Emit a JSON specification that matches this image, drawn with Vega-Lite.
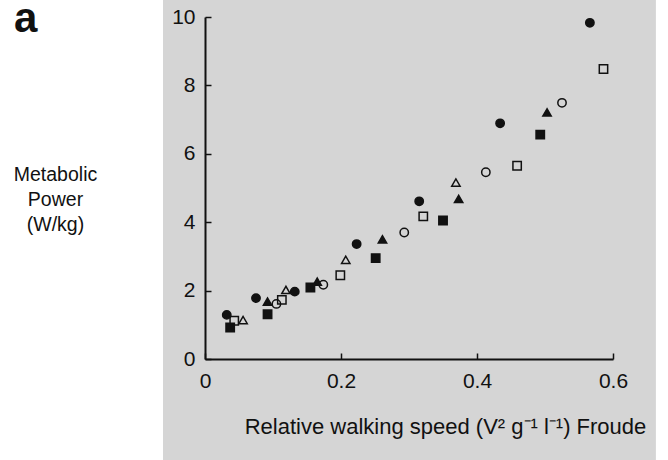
{
  "$schema": "https://vega.github.io/schema/vega-lite/v6.json",
  "autosize": "none",
  "width": 408,
  "height": 342,
  "padding": {"left": 205, "top": 17, "right": 55, "bottom": 101},
  "background": "white",
  "config": {
    "font": "Liberation Sans",
    "view": {"stroke": null},
    "axis": {"grid": false, "labelFlush": false, "domainColor": "#111", "domainWidth": 2, "tickColor": "#111", "tickWidth": 1.5, "labelColor": "#111", "titleColor": "#111", "labelFont": "Liberation Sans", "titleFont": "Liberation Sans"}
  },
  "title": {"text": "a", "fontSize": 42, "fontWeight": "bold", "color": "#111", "anchor": "start", "frame": "group", "dx": -191, "dy": 74, "offset": 0, "baseline": "alphabetic"},
  "data": {"values": [
    {"series": "fc", "froude": 0.032, "power": 1.29},
    {"series": "fc", "froude": 0.075, "power": 1.78},
    {"series": "fc", "froude": 0.132, "power": 1.97},
    {"series": "fc", "froude": 0.223, "power": 3.36},
    {"series": "fc", "froude": 0.315, "power": 4.61},
    {"series": "fc", "froude": 0.434, "power": 6.89},
    {"series": "fc", "froude": 0.566, "power": 9.83},
    {"series": "fs", "froude": 0.037, "power": 0.92},
    {"series": "fs", "froude": 0.092, "power": 1.31},
    {"series": "fs", "froude": 0.155, "power": 2.09},
    {"series": "fs", "froude": 0.251, "power": 2.95},
    {"series": "fs", "froude": 0.350, "power": 4.05},
    {"series": "fs", "froude": 0.493, "power": 6.56},
    {"series": "ft", "froude": 0.092, "power": 1.68},
    {"series": "ft", "froude": 0.165, "power": 2.26},
    {"series": "ft", "froude": 0.261, "power": 3.50},
    {"series": "ft", "froude": 0.373, "power": 4.68},
    {"series": "ft", "froude": 0.503, "power": 7.21},
    {"series": "oc", "froude": 0.105, "power": 1.61},
    {"series": "oc", "froude": 0.174, "power": 2.17},
    {"series": "oc", "froude": 0.293, "power": 3.70},
    {"series": "oc", "froude": 0.413, "power": 5.46},
    {"series": "oc", "froude": 0.525, "power": 7.49},
    {"series": "os", "froude": 0.043, "power": 1.12},
    {"series": "os", "froude": 0.113, "power": 1.73},
    {"series": "os", "froude": 0.199, "power": 2.45},
    {"series": "os", "froude": 0.321, "power": 4.17},
    {"series": "os", "froude": 0.459, "power": 5.65},
    {"series": "os", "froude": 0.586, "power": 8.48},
    {"series": "ot", "froude": 0.056, "power": 1.14},
    {"series": "ot", "froude": 0.119, "power": 2.02},
    {"series": "ot", "froude": 0.207, "power": 2.90},
    {"series": "ot", "froude": 0.369, "power": 5.16}
  ]},
  "layer": [
    {
      "mark": {"type": "rect", "fill": "#d5d5d5", "clip": false},
      "encoding": {
        "x": {"datum": -0.0605, "type": "quantitative"},
        "x2": {"datum": 0.662},
        "y": {"datum": 10.5, "type": "quantitative"},
        "y2": {"datum": -2.96}
      }
    },
    {
      "mark": {"type": "point", "stroke": "#111", "strokeWidth": 1.5, "opacity": 1, "size": 70},
      "encoding": {
        "x": {"field": "froude", "type": "quantitative",
          "scale": {"domain": [0, 0.6], "nice": false, "zero": false},
          "axis": {"zindex": 1, "values": [0, 0.2, 0.4, 0.6], "tickSize": -6, "labelFontSize": 21, "labelPadding": 17, "labelFlush": false,
            "labelExpr": "datum.value == 0 ? '0' : format(datum.value, '.1f')",
            "title": "Relative walking speed (V² g⁻¹ l⁻¹) Froude", "titleFontSize": 22, "titleFontWeight": "normal",
            "titleX": 240, "titleY": 74, "titleBaseline": "alphabetic", "titleAnchor": null, "titleAlign": "center"}},
        "y": {"field": "power", "type": "quantitative",
          "scale": {"domain": [0, 10], "nice": false, "zero": false},
          "axis": {"zindex": 1, "values": [0, 2, 4, 6, 8, 10], "tickSize": -6, "labelFontSize": 21, "labelPadding": 16, "labelFlush": false,
            "title": ["Metabolic", "Power", "(W/kg)"], "titleFontSize": 19.5, "titleFontWeight": "normal", "titleAngle": 0,
            "titleX": -150, "titleY": 148, "titleAlign": "center", "titleBaseline": "top", "titleLineHeight": 25}},
        "shape": {"field": "series", "type": "nominal", "legend": null,
          "scale": {"domain": ["fc", "fs", "ft", "oc", "os", "ot"], "range": ["circle", "square", "triangle-up", "circle", "square", "triangle-up"]}},
        "fill": {"field": "series", "type": "nominal", "legend": null,
          "scale": {"domain": ["fc", "fs", "ft", "oc", "os", "ot"], "range": ["#111", "#111", "#111", "transparent", "transparent", "transparent"]}}
      }
    }
  ]
}
